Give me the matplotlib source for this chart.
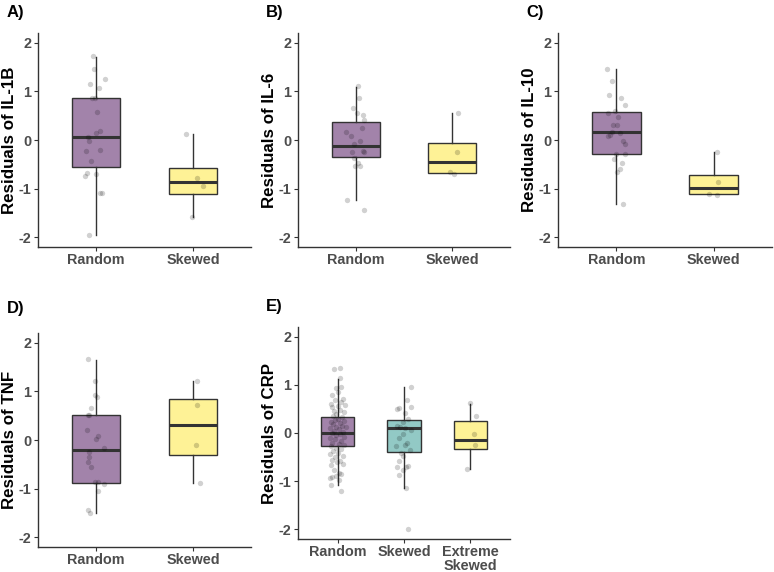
import numpy as np
import matplotlib
matplotlib.use('Agg')
import matplotlib.pyplot as plt

plt.rcParams['font.family'] = ['Liberation Sans', 'DejaVu Sans']
plt.rcParams['axes.unicode_minus'] = False

W, H = 774, 572

purple = '#A283AA'
teal = '#92C9C5'
yellow = '#FEF296'
edge = '#333333'

# ---- data ----
# box stats: q1, median, q3, whisker low, whisker high
il1b_box = [(-0.56, 0.06, 0.86, -1.95, 1.71), (-1.11, -0.87, -0.57, -1.58, 0.12)]
il1b_rand_y = [1.73, 1.47, 1.15, 1.06, 1.25, 0.86, 0.86, 0.57, 0.19, 0.15, 0.06,
               -0.03, -0.22, -0.21, -0.44, -0.68, -0.75, -0.70, -1.08, -1.08, -1.95]
il1b_rand_dx = [-0.03, -0.02, -0.06, 0.03, 0.09, -0.04, -0.01, 0.01, 0.04, 0.0, -0.08,
                -0.07, -0.10, 0.04, -0.05, -0.09, -0.11, 0.0, 0.04, 0.06, -0.07]
il1b_skew_y = [0.13, -0.79, -0.95, -1.58]
il1b_skew_dx = [-0.07, 0.04, 0.10, -0.01]

il6_box = [(-0.35, -0.13, 0.36, -1.23, 1.09), (-0.67, -0.46, -0.06, -0.67, 0.56)]
il6_rand_y = [1.10, 0.87, 0.65, 0.56, 0.52, 0.42, 0.25, 0.16, 0.08, -0.03, -0.08,
              -0.24, -0.23, -0.25, -0.37, -0.47, -0.54, -0.54, -1.24, -1.44]
il6_rand_dx = [0.02, 0.03, -0.03, 0.01, 0.07, 0.08, 0.06, -0.10, -0.05, 0.04, -0.02,
               -0.04, 0.07, 0.09, -0.02, 0.02, -0.01, 0.04, -0.09, 0.08]
il6_skew_y = [0.56, -0.25, -0.65, -0.70]
il6_skew_dx = [0.06, 0.05, -0.02, 0.02]

il10_box = [(-0.29, 0.16, 0.57, -1.31, 1.45), (-1.12, -0.99, -0.71, -1.12, -0.24)]
il10_rand_y = [1.45, 1.22, 0.92, 0.86, 0.72, 0.60, 0.56, 0.47, 0.31, 0.31, 0.17, 0.15,
               0.08, 0.11, -0.02, -0.09, -0.28, -0.29, -0.39, -0.47, -0.60, -0.65, -1.31]
il10_rand_dx = [-0.10, -0.05, -0.08, 0.05, 0.09, -0.01, -0.09, 0.02, -0.03, 0.01, -0.05, 0.04,
                -0.09, -0.07, 0.07, 0.09, 0.09, 0.0, -0.02, 0.06, 0.04, 0.01, 0.07]
il10_skew_y = [-0.24, -0.87, -1.11, -1.14]
il10_skew_dx = [0.03, 0.04, -0.05, 0.03]

tnf_box = [(-0.88, -0.21, 0.52, -1.50, 1.64), (-0.30, 0.30, 0.84, -0.88, 1.21)]
tnf_rand_y = [1.66, 1.22, 0.93, 0.88, 0.65, 0.52, 0.52, 0.21, 0.08, 0.03, -0.17,
              -0.25, -0.34, -0.46, -0.56, -0.87, -0.87, -0.91, -1.04, -1.43, -1.50]
tnf_rand_dx = [-0.08, -0.01, -0.01, 0.01, -0.05, -0.08, -0.07, -0.09, 0.02, 0.0, 0.08,
               -0.07, -0.07, -0.08, -0.05, -0.01, 0.02, 0.08, 0.02, -0.08, -0.06]
tnf_skew_y = [1.21, 0.72, -0.10, -0.89]
tnf_skew_dx = [0.04, 0.04, 0.03, 0.07]

crp_box = [(-0.27, -0.01, 0.33, -1.08, 1.13), (-0.40, 0.10, 0.27, -1.14, 0.96),
           (-0.34, -0.14, 0.25, -0.75, 0.61)]
crp_rand_y = [1.32, 1.35, 1.15, 0.94, 0.96, 0.85, 0.78, 0.71, 0.69, 0.65, 0.61, 0.56, 0.58,
              0.54, 0.47, 0.45, 0.44, 0.39, 0.35, 0.34, 0.30, 0.27, 0.25, 0.23, 0.21, 0.18,
              0.15, 0.13, 0.12, 0.10, 0.08, 0.05, 0.03, -0.01, -0.02, -0.05, -0.08, -0.10,
              -0.13, -0.16, -0.20, -0.23, -0.25, -0.28, -0.31, -0.34, -0.38, -0.42, -0.44,
              -0.47, -0.50, -0.56, -0.59, -0.61, -0.64, -0.66, -0.76, -0.82, -0.91, -0.93,
              -0.90, -0.85, -0.97, -1.08, -1.21]
crp_rand_dx = [-0.05, 0.04, 0.04, -0.02, 0.05, 0.01, -0.08, 0.08, -0.04, 0.05, -0.10, 0.0, 0.11,
               -0.09, 0.03, -0.05, 0.09, -0.02, -0.07, 0.07, 0.01, -0.04, 0.09, -0.10, 0.03, -0.07,
               0.06, -0.02, 0.12, -0.11, 0.02, -0.05, 0.08, -0.09, 0.04, -0.02, 0.10, -0.12,
               -0.04, 0.05, -0.08, 0.02, 0.09, -0.10, -0.03, 0.05, -0.07, 0.01, -0.11,
               0.08, -0.04, -0.09, 0.03, -0.01, 0.08, -0.10, -0.05, 0.02, -0.08, -0.11,
               -0.02, 0.05, 0.02, -0.10, 0.05]
crp_skew_y = [0.96, 0.68, 0.51, 0.49, 0.54, 0.42, 0.30, 0.23, 0.14, 0.12, 0.10, 0.06, -0.02,
              -0.11, -0.21, -0.25, -0.27, -0.35, -0.42, -0.47, -0.59, -0.71, -0.71, -0.76,
              -0.87, -0.69, -1.15, -1.99]
crp_skew_dx = [0.11, 0.05, -0.08, -0.11, 0.10, 0.01, 0.06, -0.02, -0.11, -0.06, 0.02, 0.10, -0.02,
               -0.08, 0.05, 0.01, -0.12, 0.09, -0.05, -0.01, -0.07, -0.11, 0.03, -0.01,
               -0.07, 0.06, 0.03, 0.06]
crp_ext_y = [0.62, 0.35, -0.03, -0.25, -0.75]
crp_ext_dx = [0.0, 0.08, 0.05, 0.07, -0.05]

panels = [
    dict(label='A)', ylab='Residuals of IL-1B', box=il1b_box,
         pts=[(il1b_rand_dx, il1b_rand_y), (il1b_skew_dx, il1b_skew_y)],
         cats=['Random', 'Skewed'], cols=[purple, yellow],
         px=(38, 251, 33, 247), lab_xy=(7, 12.5)),
    dict(label='B)', ylab='Residuals of IL-6', box=il6_box,
         pts=[(il6_rand_dx, il6_rand_y), (il6_skew_dx, il6_skew_y)],
         cats=['Random', 'Skewed'], cols=[purple, yellow],
         px=(298, 510, 33, 247), lab_xy=(266, 12.5)),
    dict(label='C)', ylab='Residuals of IL-10', box=il10_box,
         pts=[(il10_rand_dx, il10_rand_y), (il10_skew_dx, il10_skew_y)],
         cats=['Random', 'Skewed'], cols=[purple, yellow],
         px=(558, 772, 33, 247), lab_xy=(526, 12.5)),
    dict(label='D)', ylab='Residuals of TNF', box=tnf_box,
         pts=[(tnf_rand_dx, tnf_rand_y), (tnf_skew_dx, tnf_skew_y)],
         cats=['Random', 'Skewed'], cols=[purple, yellow],
         px=(38, 251, 333, 547), lab_xy=(7, 309)),
    dict(label='E)', ylab='Residuals of CRP', box=crp_box,
         pts=[(crp_rand_dx, crp_rand_y), (crp_skew_dx, crp_skew_y), (crp_ext_dx, crp_ext_y)],
         cats=['Random', 'Skewed', 'Extreme\nSkewed'], cols=[purple, teal, yellow],
         px=(298, 510, 327, 539), lab_xy=(266, 306)),
]

fig = plt.figure(figsize=(W / 100, H / 100), dpi=100)

for p in panels:
    l, r, t, b = p['px']
    ax = fig.add_axes([l / W, 1 - b / H, (r - l) / W, (b - t) / H])
    n = len(p['cats'])
    stats = []
    for q1, med, q3, lo, hi in p['box']:
        stats.append(dict(q1=q1, med=med, q3=q3, whislo=lo, whishi=hi, fliers=[]))
    bp = ax.bxp(stats, positions=range(1, n + 1), widths=0.5, patch_artist=True,
                showcaps=False, showfliers=False,
                boxprops=dict(edgecolor=edge, linewidth=1.0),
                whiskerprops=dict(color=edge, linewidth=1.0),
                medianprops=dict(color=edge, linewidth=2.2))
    for patch, c in zip(bp['boxes'], p['cols']):
        patch.set_facecolor(c)
    for i, (dx, y) in enumerate(p['pts']):
        ax.scatter(np.array(dx) + i + 1, y, s=15, color='black', alpha=0.18,
                   linewidths=0, zorder=4)

    ax.set_xlim(0.4, n + 0.6)
    ax.set_ylim(-2.2, 2.2)
    ax.set_yticks([-2, -1, 0, 1, 2])
    ax.set_xticks(range(1, n + 1))
    ax.set_xticklabels(p['cats'], linespacing=0.95)
    for s in ['top', 'right']:
        ax.spines[s].set_visible(False)
    for s in ['left', 'bottom']:
        ax.spines[s].set_color('#333333')
        ax.spines[s].set_linewidth(1.0)
    ax.tick_params(length=2.8, width=0.8, color='#333333', pad=1.8,
                   labelsize=10.4, labelcolor='#4D4D4D')
    for tl in ax.get_xticklabels() + ax.get_yticklabels():
        tl.set_fontweight('bold')
    ax.set_ylabel(p['ylab'], fontsize=12.2, fontweight='bold', color='black')
    ax.yaxis.set_label_coords(-0.1, 0.5)

    lx, ly = p['lab_xy']
    fig.text(lx / W, 1 - ly / H, p['label'], fontsize=12, fontweight='bold',
             ha='left', va='center')

fig.savefig('out.png', dpi=100)
